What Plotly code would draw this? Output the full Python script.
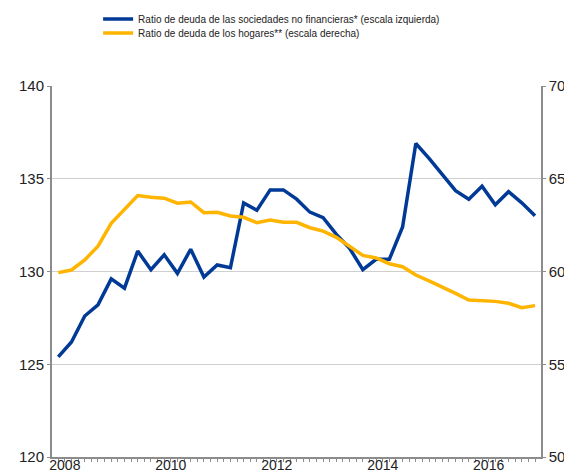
import plotly.graph_objects as go

# trimestres 2008T1 - 2017T1
quarters = [2008 + i / 4 for i in range(37)]

sociedades = [125.4, 126.2, 127.6, 128.2, 129.6, 129.1, 131.1, 130.1, 130.9,
              129.9, 131.2, 129.7, 130.35, 130.2, 133.7, 133.3, 134.4, 134.4,
              133.9, 133.2, 132.9, 132.0, 131.25, 130.1, 130.66, 130.66, 132.4,
              136.9, 136.1, 135.2, 134.36, 133.9, 134.6, 133.6, 134.3, 133.7,
              133.0]

hogares = [59.94, 60.08, 60.62, 61.37, 62.6, 63.32, 64.09, 64.0, 63.95, 63.68,
           63.75, 63.17, 63.19, 62.99, 62.92, 62.63, 62.78, 62.65, 62.65, 62.36,
           62.18, 61.84, 61.37, 60.87, 60.73, 60.42, 60.26, 59.81, 59.49, 59.18,
           58.82, 58.46, 58.43, 58.39, 58.29, 58.05, 58.16]

year_labels = ["2008", "2010", "2012", "2014", "2016"]

azul = "#003a96"
amarillo = "#ffb400"
gris = "#8c8c8c"
fuente = "Liberation Sans, Arial, sans-serif"

fig = go.Figure()

fig.add_trace(go.Scatter(
    x=quarters, y=sociedades, mode="lines",
    name="Ratio de deuda de las sociedades no financieras* (escala izquierda)",
    line=dict(color=azul, width=3.5), legend="legend",
))
fig.add_trace(go.Scatter(
    x=quarters, y=hogares, mode="lines", yaxis="y2",
    name="Ratio de deuda de los hogares** (escala derecha)",
    line=dict(color=amarillo, width=3.5), legend="legend2",
))

leyenda = dict(
    x=0.0943, xanchor="left", yanchor="middle",
    font=dict(size=10, family=fuente, color="#222222"),
    bgcolor="rgba(0,0,0,0)",
)

# la página añade 8 px de margen al cuerpo: la figura ocupa 564x464
fig.update_layout(
    width=564, height=464,
    margin=dict(l=44, r=31, t=78, b=15, autoexpand=False),
    paper_bgcolor="white", plot_bgcolor="white",
    font=dict(family=fuente, color="#222222"),
    showlegend=True,
    legend=dict(leyenda, y=1.1806),
    legend2=dict(leyenda, y=1.1429),
    xaxis=dict(
        range=[2008 - 0.118, 2017 + 0.113],
        tickvals=[int(y) + 0.125 for y in year_labels],
        ticktext=year_labels,
        ticks="", showgrid=False, zeroline=False,
        showline=True, linecolor=gris, linewidth=1.5,
        ticklabelstandoff=-6,
        tickfont=dict(size=14, family=fuente, color="#222222"),
        minor=dict(ticks="outside", ticklen=3, tickcolor=gris,
                   dtick=0.125, tick0=2008.125, showgrid=False),
    ),
    yaxis=dict(
        range=[120, 140], dtick=5, tick0=120,
        showgrid=True, gridcolor="#cfcfcf", gridwidth=1,
        zeroline=False, showline=True, linecolor=gris, linewidth=2,
        ticks="outside", ticklen=3, tickcolor=gris,
        tickfont=dict(size=15, family=fuente, color="#222222"),
    ),
    yaxis2=dict(
        range=[50, 70], dtick=5, tick0=50,
        overlaying="y", side="right",
        showgrid=False, zeroline=False,
        showline=True, linecolor=gris, linewidth=1.5,
        ticks="outside", ticklen=3, tickcolor=gris,
        tickfont=dict(size=15, family=fuente, color="#222222"),
    ),
)

fig.write_html("out.html")
